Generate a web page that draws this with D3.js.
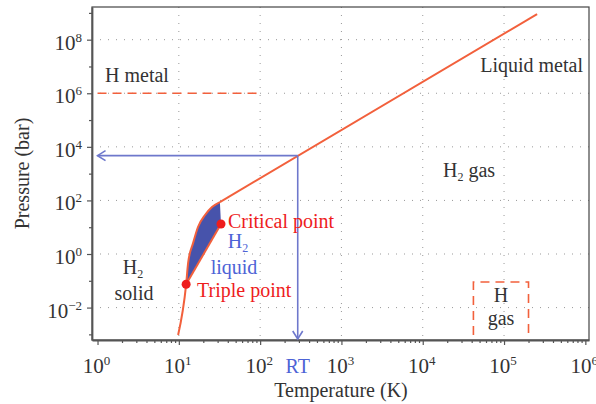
<!DOCTYPE html>
<html><head><meta charset="utf-8">
<script src="https://cdn.jsdelivr.net/npm/d3@7"></script>
<style>
html,body{margin:0;padding:0;background:#fff;}
svg{display:block;font-family:"Liberation Serif","DejaVu Serif",serif;}
</style></head>
<body><svg id="c" width="596" height="404"></svg>
<script>
// ---- data ----
const xTickExps = [0,1,2,3,4,5,6];
const yTickExps = [-2,0,2,4,6,8];
const gridXExps = [1,2,3,4,5];
const gridYExps = [-2,0,2,4,6,8];
// melting curve (solid/liquid boundary), T in K, P in bar
const meltT = [9.8, 12.3, 13.0, 15.0, 17.2, 21.0, 25.6, 32];
const meltP = [9.5e-4, 0.074, 0.46, 2.6, 10.2, 28.5, 56.7, 87];
// high-pressure boundary (gas / liquid metal)
const boundT = [32, 2.55e5];
const boundP = [87, 9.0e8];
const triple = [12.3, 0.074];
const critical = [33, 13.2];
const rtT = 290, rtP = 4700;
const hMetalT = [1, 100], hMetalP = 1e6;
const hGasT = [4.2e4, 2.0e5], hGasP = [9.5e-4, 0.09];

// ---- scales ----
const svg = d3.select("#c");
const L=92, R=589, T=7, B=340;
const x = d3.scaleLog().domain([Math.pow(10,-0.068), Math.pow(10,6.045)]).range([L,R]);
const y = d3.scaleLog().domain([Math.pow(10,-3.21), Math.pow(10,9.22)]).range([B,T]);

const red="#f2603c", dotRed="#ee1d1d", blueFill="#4753ab", arrowBlue="#6e78cc", textBlue="#4d63d6", dark="#333";

// grid
const g = svg.append("g");
gridXExps.forEach(e=>{
  g.append("line").attr("x1",x(10**e)).attr("x2",x(10**e)).attr("y1",T).attr("y2",B)
   .attr("stroke","#999").attr("stroke-width",1).attr("stroke-dasharray","1,7");
});
gridYExps.forEach(e=>{
  g.append("line").attr("x1",L).attr("x2",R).attr("y1",y(10**e)).attr("y2",y(10**e))
   .attr("stroke","#999").attr("stroke-width",1).attr("stroke-dasharray","1,7");
});

// frame
svg.append("rect").attr("x",L).attr("y",T).attr("width",R-L).attr("height",B-T)
  .attr("fill","none").attr("stroke","#444").attr("stroke-width",1.2);

// axes
const xMinor = [];
for(let e=0;e<6;e++) for(let k=1;k<10;k++) xMinor.push(k*10**e);
xMinor.push(1e6);
const xAxis = d3.axisBottom(x).tickValues(xMinor).tickSize(0).tickFormat("");
const ax = svg.append("g").attr("transform",`translate(0,${B})`).call(xAxis);
ax.select(".domain").attr("stroke","#555").attr("stroke-width",1.8);
ax.selectAll(".tick line").attr("stroke","#555").attr("stroke-width",1.2)
  .attr("y2",d=>Math.abs(Math.log10(d)-Math.round(Math.log10(d)))<1e-9?5:3);
xTickExps.forEach(e=>{
  const t = svg.append("text").attr("x",x(10**e)-1).attr("y",373).attr("text-anchor","middle")
    .attr("font-size",21).attr("fill",dark).text("10");
  t.append("tspan").attr("dy",-8).attr("font-size",13).text(e);
});
svg.append("text").attr("x",x(rtT)).attr("y",373).attr("text-anchor","middle")
  .attr("font-size",20).attr("fill",textBlue).text("RT");

const yTicks = d3.range(-3,10).map(e=>10**e);
const yAxis = d3.axisLeft(y).tickValues(yTicks).tickSize(0).tickFormat("");
const ay = svg.append("g").attr("transform",`translate(${L},0)`).call(yAxis);
ay.select(".domain").attr("stroke","#555").attr("stroke-width",1.8);
ay.selectAll(".tick line").attr("stroke","#555").attr("stroke-width",1.2)
  .attr("x2",d=>Math.round(Math.log10(d))%2===0?-5:-3);
yTickExps.forEach(e=>{
  const t = svg.append("text").attr("x",82).attr("y",y(10**e)+10).attr("text-anchor","end")
    .attr("font-size",21).attr("fill",dark).text("10");
  t.append("tspan").attr("dy",-8).attr("font-size",13).text(e<0?"\u2212"+(-e):e);
});

// axis titles
svg.append("text").attr("x",341).attr("y",397).attr("text-anchor","middle")
  .attr("font-size",20).attr("fill",dark).text("Temperature (K)");
svg.append("text").attr("transform",`translate(29,${(T+B)/2}) rotate(-90)`).attr("text-anchor","middle")
  .attr("font-size",20).attr("fill",dark).text("Pressure (bar)");

// H metal dashed line
svg.append("line").attr("x1",x(hMetalT[0])).attr("x2",x(hMetalT[1])).attr("y1",y(hMetalP)).attr("y2",y(hMetalP))
  .attr("stroke",red).attr("stroke-width",1.6).attr("stroke-dasharray","9,6");

// H gas box (open bottom)
svg.append("path").attr("d",
  `M${x(hGasT[0])},${y(hGasP[0])}V${y(hGasP[1])}H${x(hGasT[1])}V${y(hGasP[0])}`)
  .attr("fill","none").attr("stroke",red).attr("stroke-width",1.6).attr("stroke-dasharray","9,6");

// liquid region
const meltPts = meltT.map((t,i)=>[x(t),y(meltP[i])]);
const tripleIdx = 1;
const lineGen = d3.line().curve(d3.curveMonotoneX);
const upper = d3.line().curve(d3.curveMonotoneX)(meltPts.slice(tripleIdx));
svg.append("path").attr("d", upper + `L${x(critical[0])},${y(critical[1])}Z`)
  .attr("fill",blueFill).attr("stroke","none");
// melting line
svg.append("path").attr("d",lineGen(meltPts)).attr("fill","none").attr("stroke",red).attr("stroke-width",2);
// vaporisation line
svg.append("line").attr("x1",x(triple[0])).attr("y1",y(triple[1])).attr("x2",x(critical[0])).attr("y2",y(critical[1]))
  .attr("stroke",red).attr("stroke-width",2);
// high-pressure boundary
svg.append("path").attr("d",d3.line()(boundT.map((t,i)=>[x(t),y(boundP[i])])))
  .attr("fill","none").attr("stroke",red).attr("stroke-width",2);

// RT arrows
const ax0 = x(rtT), ay0 = y(rtP);
svg.append("line").attr("x1",ax0).attr("y1",ay0).attr("x2",x(1)).attr("y2",ay0)
  .attr("stroke",arrowBlue).attr("stroke-width",1.6);
svg.append("line").attr("x1",ax0).attr("y1",ay0).attr("x2",ax0).attr("y2",B-1)
  .attr("stroke",arrowBlue).attr("stroke-width",1.6);
svg.append("path").attr("d",`M${x(1)+8},${ay0-5}L${x(1)},${ay0}L${x(1)+8},${ay0+5}`)
  .attr("fill","none").attr("stroke",arrowBlue).attr("stroke-width",1.6);
svg.append("path").attr("d",`M${ax0-5},${B-9}L${ax0},${B-1}L${ax0+5},${B-9}`)
  .attr("fill","none").attr("stroke",arrowBlue).attr("stroke-width",1.6);

// points
[triple, critical].forEach(p=>{
  svg.append("circle").attr("cx",x(p[0])).attr("cy",y(p[1])).attr("r",4.5).attr("fill",dotRed);
});

// labels
function label(tx,ty,txt,sub,anchor,color){
  const t = svg.append("text").attr("x",tx).attr("y",ty).attr("text-anchor",anchor||"start")
    .attr("font-size",20).attr("fill",color||dark).text(txt);
  if(sub){
    t.append("tspan").attr("dy",4).attr("font-size",12).text(sub.s);
    if(sub.rest) t.append("tspan").attr("dy",-4).text(sub.rest);
  }
  return t;
}
label(105,82,"H metal");
label(583,72,"Liquid metal",null,"end");
label(443,177,"H",{s:"2",rest:" gas"});
label(133,274,"H",{s:"2"},"middle");
label(134,300,"solid",null,"middle");
label(238,248,"H",{s:"2"},"middle",textBlue);
label(234,274,"liquid",null,"middle",textBlue);
label(228,228,"Critical point",null,"start",dotRed);
label(197,297,"Triple point",null,"start",dotRed);
label(501,302,"H",null,"middle");
label(501,325,"gas",null,"middle");
</script></body></html>
